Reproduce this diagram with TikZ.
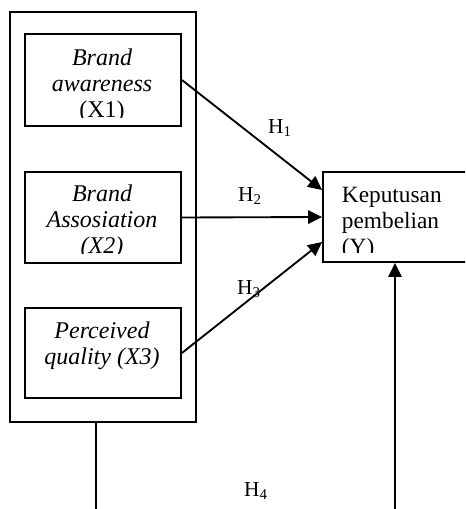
\documentclass[tikz,border=0pt]{standalone}
\usepackage{fontspec}
\setmainfont{Liberation Serif}
\usetikzlibrary{positioning, arrows.meta}

\begin{document}
\begin{tikzpicture}[x=0.75pt, y=-0.75pt, line width=1.4pt,
    varbox/.style={draw, minimum width=117pt, minimum height=68pt, inner sep=0pt},
    boxtext/.style={align=center, inner sep=0pt, anchor=north,
        font=\fontsize{18}{19.5}\selectfont\itshape},
    hlabel/.style={inner sep=0pt, font=\fontsize{16}{18}\selectfont},
    arrow/.style={-{Triangle[length=10.5pt, width=10pt]}}]
            \useasboundingbox (0,0) rectangle (465,509);
            \clip (0,0) rectangle (465,509);

            \node[draw, minimum width=139.5pt, minimum height=307.5pt] (grp) at (103,217) {};
            \node[varbox, minimum height=69pt] (x1) at (103,80) {};
            \node[varbox, minimum height=68.25pt] (x2) at (103,217.5) {};
            \node[varbox, minimum height=67.5pt] (x3) at (103,353) {};
            \node[draw, minimum width=108.75pt, minimum height=67.5pt] (y) at (395.5,217) {};

            % Texts in the boxes
            \begin{scope}
                \clip (x1.north west) rectangle ([yshift=6.75pt]x1.south east);
                \node[boxtext] (x1t) at (102,47.6) {Brand\\awareness\\\upshape (X1)};
            \end{scope}
            \begin{scope}
                \clip (x2.north west) rectangle ([yshift=7.5pt]x2.south east);
                \node[boxtext] (x2t) at (102,183.6) {Brand\\Assosiation\\(X2)};
            \end{scope}
            \node[boxtext] (x3t) at (102,320.6) {Perceived\\quality (X3)};
            \begin{scope}
                \clip (y.north west) rectangle ([yshift=7.5pt]y.south east);
                \node[boxtext, align=left, anchor=north west, font=\fontsize{17.5}{19.5}\selectfont] (yt) at (341,186.5) {Keputusan\\pembelian\\(Y)};
            \end{scope}

            % Draw edges
            \draw[arrow] (x1.east) -- ([yshift=20.25pt]y.west);
            \draw[arrow] (x2.east) -- (y.west);
            \draw[arrow] (x3.east) -- ([yshift=-18.75pt]y.west);

            \coordinate (l4) at (96,512);
            \coordinate (r4) at (395,512);
            \draw (grp.south -| l4) -- (l4);
            \draw[arrow] (r4) -- (r4 |- y.south);

            \node[hlabel] (h1) at (280,128) {H\textsubscript{1}};
            \node[hlabel] (h2) at (250,196) {H\textsubscript{2}};
            \node[hlabel] (h3) at (249,289) {H\textsubscript{3}};
            \node[hlabel] (h4) at (256,491) {H\textsubscript{4}};
        \end{tikzpicture}
\end{document}
